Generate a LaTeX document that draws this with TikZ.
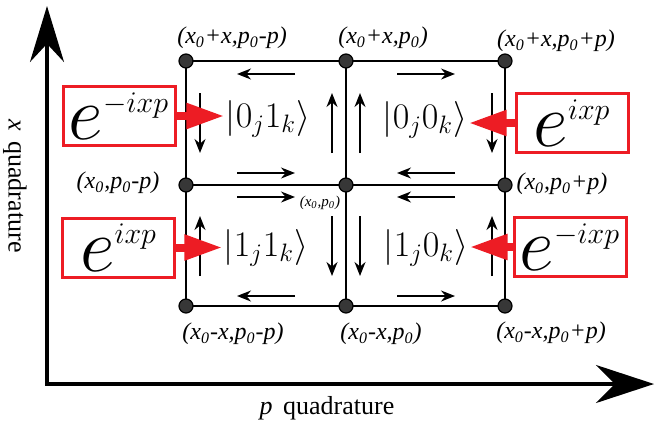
\RequirePackage{fix-cm}
\documentclass[tikz,border=0pt]{standalone}
\usepackage[no-math]{fontspec}
\setmainfont{Liberation Serif}
\usepackage{tikz}
\usetikzlibrary{arrows.meta, backgrounds, calc}
\DeclareMathSizes{38}{38}{15}{12}
\definecolor{phase_red}{RGB}{237,28,36}
\definecolor{dot_gray}{RGB}{55,55,55}
\newcommand{\lsub}[1]{\textsubscript{#1}}
\tikzset{
  grid_line/.style={line width=1.3pt, black},
  grid_dot/.style={circle, draw=black, fill=dot_gray, line width=0.6pt, minimum size=7pt, inner sep=0pt},
  flow_arrow/.style={-{Stealth[length=7pt,width=5.5pt]}, line width=0.8pt, black},
  axis_style/.style={{Stealth[length=28pt,width=17pt]}-{Stealth[length=29pt,width=19pt]}, line width=1.6pt, black, line join=miter},
  phase_box/.style={rectangle, draw=phase_red, line width=1.5pt, minimum width=56pt, minimum height=29.5pt, inner sep=0pt, font=\fontsize{38}{40}\selectfont},
  phase_arrow/.style={-{Triangle[length=19pt,width=12pt]}, line width=4pt, phase_red},
  ket_label/.style={inner sep=0.5pt, font=\fontsize{18}{20}\selectfont},
  corner_label/.style={font=\fontsize{12}{14}\selectfont\itshape, inner sep=0pt},
  small_label/.style={font=\fontsize{7.5}{9}\selectfont\itshape, inner sep=0pt},
  axis_label/.style={font=\fontsize{13}{15}\selectfont, inner sep=0pt}
}

\begin{document}
\begin{tikzpicture}[x=0.5pt, y=-0.5pt]
    \useasboundingbox (0,0) rectangle (656,423);

    % Axes of the phase space
    \coordinate (origin) at (47,384);
    \coordinate (x_tip) at (47,6);
    \coordinate (p_tip) at (654,384);
    \draw[axis_style] (x_tip) -- (origin) -- (p_tip);
    \node[axis_label, rotate=-90] (x_label) at (15,186) {\textit{x}\hspace{0.4em}quadrature};
    \node[axis_label] (p_label) at (327,408) {\textit{p}\hspace{0.4em}quadrature};

    % Lattice points, with the lines between them behind
    \foreach \i/\gx in {0/186,1/346,2/505}
      \foreach \j/\gy in {0/61,1/185,2/306}
        \node[grid_dot] (d\i\j) at (\gx,\gy) {};
    \begin{scope}[on background layer]
      \foreach \j in {0,1,2}
        \draw[grid_line] (d0\j.center) -- (d2\j.center);
      \foreach \i in {0,1,2}
        \draw[grid_line] (d\i0.center) -- (d\i2.center);
    \end{scope}

    \node[corner_label] (l_00) at (232,38) {(x\lsub{0}+x,p\lsub{0}-p)};
    \node[corner_label] (l_10) at (383,38) {(x\lsub{0}+x,p\lsub{0})};
    \node[corner_label] (l_20) at (556,41) {(x\lsub{0}+x,p\lsub{0}+p)};
    \node[corner_label] (l_01) at (118,183) {(x\lsub{0},p\lsub{0}-p)};
    \node[small_label] (l_11) at (320,203) {(x\lsub{0},p\lsub{0})};
    \node[corner_label] (l_21) at (562,184) {(x\lsub{0},p\lsub{0}+p)};
    \node[corner_label] (l_02) at (233,334) {(x\lsub{0}-x,p\lsub{0}-p)};
    \node[corner_label] (l_12) at (381,334) {(x\lsub{0}-x,p\lsub{0})};
    \node[corner_label] (l_22) at (551,333) {(x\lsub{0}-x,p\lsub{0}+p)};

    % Circulation inside each cell
    \foreach \cx/\cy/\s in {266/123/1, 426/123/-1, 266/246/-1, 426/246/1} {
      \draw[flow_arrow] (\cx+29*\s,\cy-49) -- (\cx-29*\s,\cy-49);
      \draw[flow_arrow] (\cx-29*\s,\cy+50) -- (\cx+29*\s,\cy+50);
      \draw[flow_arrow] (\cx-66,\cy-30*\s) -- (\cx-66,\cy+30*\s);
      \draw[flow_arrow] (\cx+66,\cy+30*\s) -- (\cx+66,\cy-30*\s);
    }

    \node[ket_label] (ket_01) at (268,119) {$|0_j1_k\rangle$};
    \node[ket_label] (ket_00) at (425,120) {$|0_j0_k\rangle$};
    \node[ket_label] (ket_11) at (266,248) {$|1_j1_k\rangle$};
    \node[ket_label] (ket_10) at (426,248) {$|1_j0_k\rangle$};

    % Phase factors pushing into the cells
    \node[phase_box] (ph_tl) at (119,116) {$e^{-ixp}$};
    \node[phase_box] (ph_bl) at (118.5,247.5) {$e^{ixp}$};
    \node[phase_box] (ph_tr) at (572,123) {$e^{ixp}$};
    \node[phase_box] (ph_br) at (570,247) {$e^{-ixp}$};

    \draw[phase_arrow] (ph_tl.east) -- (ph_tl.east -| ket_01.west);
    \draw[phase_arrow] (ph_bl.east) -- (ph_bl.east -| ket_11.west);
    \draw[phase_arrow] (ph_tr.west) -- (ph_tr.west -| ket_00.east);
    \draw[phase_arrow] (ph_br.west) -- (ph_br.west -| ket_10.east);
\end{tikzpicture}
\end{document}
